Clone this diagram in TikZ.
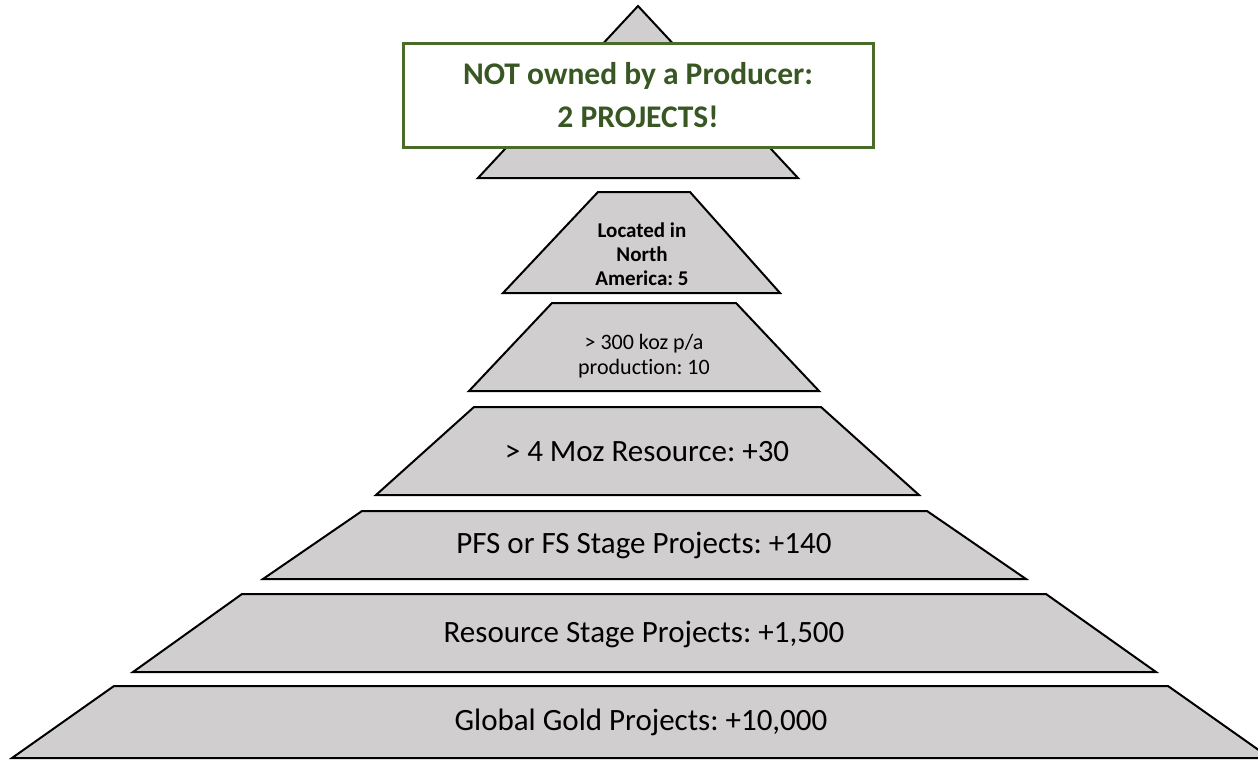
\documentclass[tikz,border=0pt]{standalone}
\usepackage{fontspec}
\setmainfont[Ligatures=NoCommon]{Carlito}
\definecolor{tierfill}{HTML}{D0CECE}
\definecolor{calloutgreen}{HTML}{385723}
\definecolor{calloutedge}{HTML}{4A6B2A}
\begin{document}
\frenchspacing
\begin{tikzpicture}[x=1pt,y=-1pt,
  tier/.style={fill=tierfill,draw=black,line width=2pt},
  tiertext/.style={inner sep=0pt,align=center,text=black},
  bigtext/.style={tiertext,font=\fontsize{31}{37}\selectfont},
  callout/.style={draw=calloutedge,fill=white,line width=3pt,
    minimum width=470pt,minimum height=103pt,inner sep=0pt,align=center,
    text=calloutgreen,font=\fontsize{31.5}{43}\selectfont\bfseries}]
\useasboundingbox (0,0) rectangle (1258,760);

% tiers of the pyramid, bottom to top
\begin{scope}
  \clip (0,0) rectangle (1258,760);
  \draw[tier] (12,758) -- (114,686) -- (1168,686) -- (1270,758) -- cycle;
\end{scope}
\draw[tier] (133,672) -- (242,594) -- (1046,594) -- (1156,672) -- cycle;
\draw[tier] (263,579) -- (362,511) -- (927,511) -- (1026,579) -- cycle;
\draw[tier] (376,495) -- (474,407) -- (821,407) -- (919,495) -- cycle;
\draw[tier] (469,391) -- (552,303) -- (736,303) -- (819,391) -- cycle;
\draw[tier] (503,293) -- (598,192) -- (690,192) -- (780,293) -- cycle;
\draw[tier] (478,178) -- (638,6) -- (798,178) -- cycle;

% tier labels
\node[bigtext] (global) at (641,722) {Global Gold Projects: +10,000};
\node[bigtext] (resource) at (644,634) {Resource Stage Projects: +1,500};
\node[bigtext] (pfs) at (644,545) {PFS or FS Stage Projects: +140};
\node[bigtext] (moz) at (647,452) {> 4 Moz Resource: +30};
\node[tiertext,font=\fontsize{22}{25}\selectfont] (koz) at (644,356)
  {> 300 koz p/a\\production: 10};
\node[tiertext,font=\fontsize{21}{24}\selectfont\bfseries] (na) at (642,254)
  {Located in\\North\\America: 5};

% callout over the apex
\node[callout] (owner) at (638,95.5) {NOT owned by a Producer:\\2 PROJECTS!};
\end{tikzpicture}
\end{document}
